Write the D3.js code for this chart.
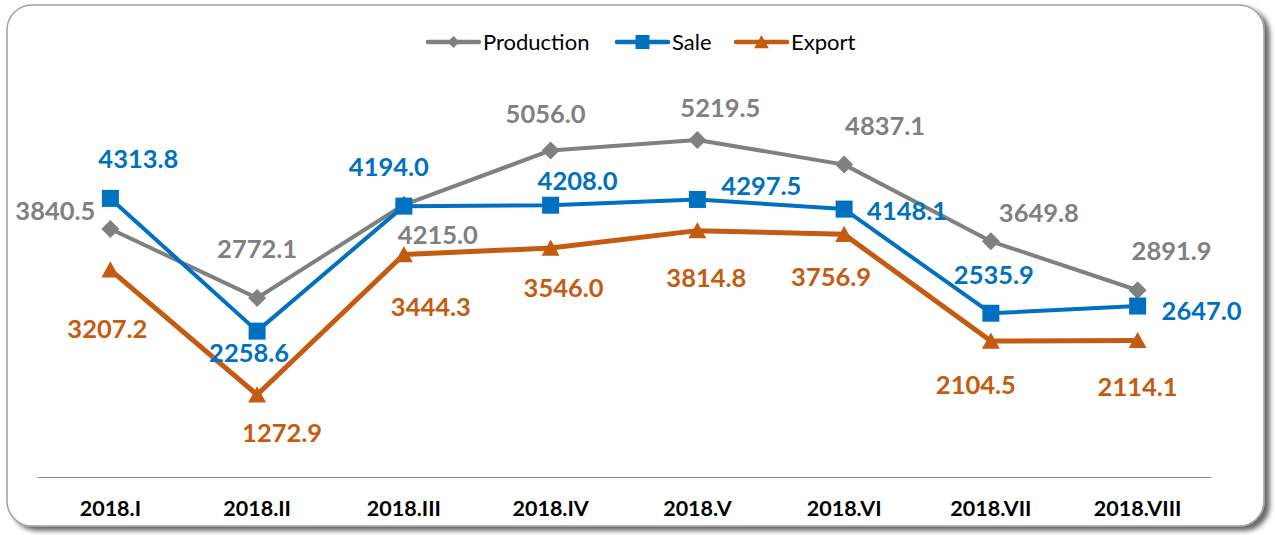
<!DOCTYPE html>
<html>
<head>
<meta charset="utf-8">
<script src="https://cdn.jsdelivr.net/npm/d3@7"></script>
<style>
  html, body { margin: 0; padding: 0; background: #fff; }
  svg { display: block; font-family: Lato, "Open Sans", sans-serif; }
</style>
</head>
<body>
<div id="chart"></div>
<script>
const categories = ['2018.I', '2018.II', '2018.III', '2018.IV', '2018.V', '2018.VI', '2018.VII', '2018.VIII']
const production = [3840.5, 2772.1, 4215.0, 5056.0, 5219.5, 4837.1, 3649.8, 2891.9]
const sale = [4313.8, 2258.6, 4194.0, 4208.0, 4297.5, 4148.1, 2535.9, 2647.0]
const exportValues = [3207.2, 1272.9, 3444.3, 3546.0, 3814.8, 3756.9, 2104.5, 2114.1]

// where each data label sits, relative to its point (label placement only)
const prodLabelOffsets = [[-55, -18], [0, -49], [34, 30], [-5, -36], [23, -32], [41, -39], [48, -28], [34, -39]]
const saleLabelOffsets = [[28, -39], [-8, 22], [-15, -39], [27, -24], [64, -13], [63, 2], [3, -38], [64, 5]]
const exportLabelOffsets = [[-3, 59], [25, 38], [27, 53], [13, 40], [9, 47], [-13, 43], [-15, 44], [0, 47]]

const series = [
  {name: 'Production', values: production, color: '#808080', marker: 'diamond', offsets: prodLabelOffsets, lw: 4},
  {name: 'Sale', values: sale, color: '#0070c0', marker: 'square', offsets: saleLabelOffsets, lw: 4},
  {name: 'Export', values: exportValues, color: '#c55a11', marker: 'triangle', offsets: exportLabelOffsets, lw: 5}
]

const width = 1275
const height = 535

const svg = d3.select('#chart').append('svg')
  .attr('width', width)
  .attr('height', height)

let defs = svg.append('defs')
let shadow = defs.append('filter').attr('id', 'shadow')
  .attr('x', '-5%').attr('y', '-5%').attr('width', '110%').attr('height', '115%')
shadow.append('feDropShadow')
  .attr('dx', 5).attr('dy', 4)
  .attr('stdDeviation', 2.5)
  .attr('flood-color', '#000')
  .attr('flood-opacity', 0.6)

// frame
svg.append('rect')
  .attr('x', 7).attr('y', 5)
  .attr('width', 1257).attr('height', 521)
  .attr('rx', 25).attr('ry', 25)
  .attr('fill', '#fff')
  .attr('stroke', '#a0a0a0')
  .attr('stroke-width', 1.5)
  .attr('filter', 'url(#shadow)')

const x = d3.scaleBand().domain(categories).range([37, 1211])
const cx = c => x(c) + x.bandwidth() / 2
const y = d3.scaleLinear().domain([0, 6000]).range([477, 89.5])

// category axis
let xAxis = svg.append('g')
  .attr('transform', `translate(0, ${y(0)})`)
  .call(d3.axisBottom(x).tickSize(0).tickPadding(24))
xAxis.select('.domain').attr('stroke', '#898989').attr('stroke-width', 1.2)
xAxis.selectAll('text')
  .attr('font-family', 'Lato, sans-serif')
  .attr('font-size', 21.5)
  .attr('font-weight', 'bold')
  .attr('fill', '#000')

function markerPath(type, s) {
  if (type === 'diamond') return `M0,${-s}L${s},0L0,${s}L${-s},0Z`
  if (type === 'square') return `M${-s},${-s}H${s}V${s}H${-s}Z`
  return `M0,${-s}L${s * 1.05},${s * 0.9}L${-s * 1.05},${s * 0.9}Z`
}
const markerSize = {diamond: 9, square: 8.5, triangle: 8.5}

const line = d3.line()
  .x((d, i) => cx(categories[i]))
  .y(d => y(d))

let lines = svg.append('g').attr('class', 'lines')
series.forEach(s => {
  lines.append('path')
    .datum(s.values)
    .attr('d', line)
    .attr('fill', 'none')
    .attr('stroke', s.color)
    .attr('stroke-width', s.lw)
    .attr('stroke-linejoin', 'round')
})

let markers = svg.append('g').attr('class', 'markers')
series.forEach(s => {
  markers.selectAll(null)
    .data(s.values)
    .enter().append('path')
    .attr('transform', (d, i) => `translate(${cx(categories[i])}, ${y(d)})`)
    .attr('d', markerPath(s.marker, markerSize[s.marker]))
    .attr('fill', s.color)
})

let labels = svg.append('g').attr('class', 'labels')
series.forEach(s => {
  labels.selectAll(null)
    .data(s.values)
    .enter().append('text')
    .attr('x', (d, i) => cx(categories[i]) + s.offsets[i][0])
    .attr('y', (d, i) => y(d) + s.offsets[i][1])
    .attr('dy', '0.35em')
    .attr('text-anchor', 'middle')
    .attr('font-size', 25.5)
    .attr('font-weight', 'bold')
    .attr('fill', s.color)
    .text(d => d.toFixed(1))
})

// legend
const legendX = [428, 617, 736]
let legend = svg.append('g').attr('class', 'legend')
series.forEach((s, i) => {
  let g = legend.append('g').attr('transform', `translate(${legendX[i]}, 42)`)
  g.append('line')
    .attr('x1', 0).attr('x2', 51)
    .attr('stroke', s.color)
    .attr('stroke-width', 4.5)
    .attr('stroke-linecap', 'round')
  g.append('path')
    .attr('transform', 'translate(25.5, 0)')
    .attr('d', markerPath(s.marker, s.marker === 'diamond' ? 6 : 7))
    .attr('fill', s.color)
  g.append('text')
    .attr('x', 55)
    .attr('dy', '0.35em')
    .attr('font-size', 22)
    .attr('fill', '#000')
    .text(s.name)
})
</script>
</body>
</html>
